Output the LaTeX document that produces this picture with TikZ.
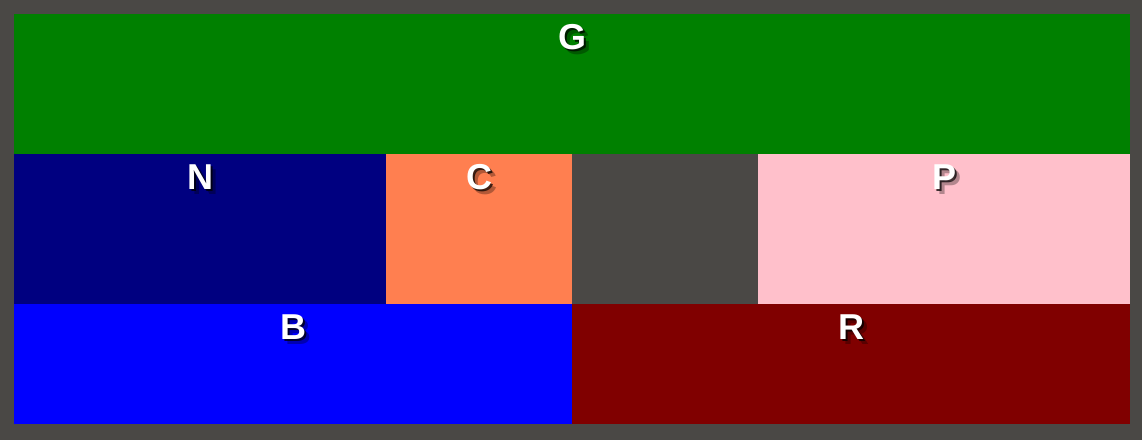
\documentclass[tikz,border=0pt]{standalone}
\usepackage{fontspec}
\setmainfont{Liberation Sans}
\usetikzlibrary{positioning}
\definecolor{frame}{HTML}{4A4845}
\definecolor{cgreen}{HTML}{008000}
\definecolor{cnavy}{HTML}{000080}
\definecolor{ccoral}{HTML}{FF7F50}
\definecolor{cpink}{HTML}{FFC0CB}
\definecolor{cblue}{HTML}{0000FF}
\definecolor{cmaroon}{HTML}{800000}

% shadowed white tag near the top of a cell
\newcommand{\celltag}[2]{%
  \node[tagshadow, opacity=0.3, xshift=3pt, yshift=-3pt] at ([yshift=-23pt]#1.north) {#2};
  \node[tagshadow] at ([yshift=-23pt]#1.north) {#2};
  \node[tag] (#1tag) at ([yshift=-23pt]#1.north) {#2};
}

\begin{document}
\begin{tikzpicture}[
    x=1pt, y=-1pt,
    cell/.style={rectangle, inner sep=0pt, outer sep=0pt, anchor=north west},
    tag/.style={font=\fontsize{36}{36}\selectfont\bfseries, text=white, inner sep=0pt},
    tagshadow/.style={tag, text=black, opacity=0.75, xshift=2pt, yshift=-2pt}
]
\fill[frame] (0,0) rectangle (1142,440);
\useasboundingbox (0,0) rectangle (1142,440);

% top row
\node[cell, fill=cgreen, minimum width=1116pt, minimum height=140pt] (G) at (14,14) {};
% middle row
\node[cell, fill=cnavy, minimum width=372pt, minimum height=150pt] (N) at (14,154) {};
\node[cell, fill=ccoral, minimum width=186pt, minimum height=150pt] (C) at (386,154) {};
\node[cell, fill=cpink, minimum width=372pt, minimum height=150pt] (P) at (758,154) {};
% bottom row
\node[cell, fill=cblue, minimum width=558pt, minimum height=120pt] (B) at (14,304) {};
\node[cell, fill=cmaroon, minimum width=558pt, minimum height=120pt] (R) at (572,304) {};

\celltag{G}{G}
\celltag{N}{N}
\celltag{C}{C}
\celltag{P}{P}
\celltag{B}{B}
\celltag{R}{R}
\end{tikzpicture}
\end{document}
